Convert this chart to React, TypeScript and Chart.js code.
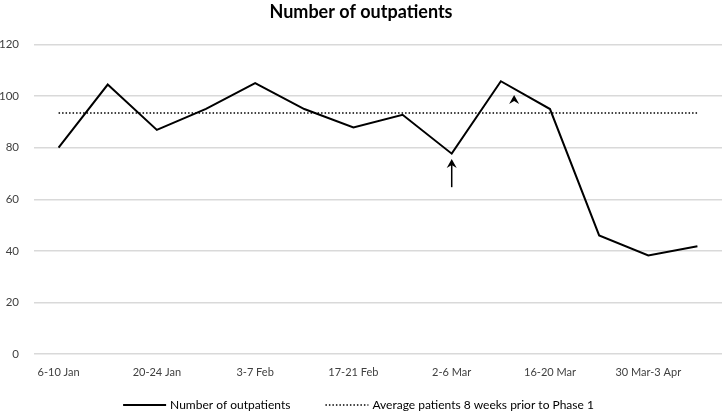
import React, { useEffect, useRef } from "react";
import { Chart, registerables } from "chart.js";

Chart.register(...registerables);

const weeks = [
  "6-10 Jan", "13-17 Jan", "20-24 Jan", "27-31 Jan", "3-7 Feb", "10-14 Feb", "17-21 Feb",
  "24-28 Feb", "2-6 Mar", "9-13 Mar", "16-20 Mar", "23-27 Mar", "30 Mar-3 Apr", "6-10 Apr",
];
const outpatients = [80, 104.5, 86.9, 95.1, 105.1, 95, 87.9, 92.8, 77.7, 105.8, 95, 46, 38.2, 41.8];
const averagePrior = 93.5;
const averageLine = weeks.map(() => averagePrior);
const yTicks = [0, 20, 40, 60, 80, 100, 120];
// annotation arrows: [category position, from value, to value]
const upArrow = [8, 64.7, 75.6];
// arrowhead: [category position, tip value]
const arrowHead = [9.27, 100.5];

const FONT = "Lato, 'Open Sans', sans-serif";

export default function App() {
  const ref = useRef<HTMLCanvasElement | null>(null);
  useEffect(() => {
    if (!ref.current) return;
    const arrows = {
      id: "arrows",
      afterDatasetsDraw(chart: any) {
        const { ctx, scales } = chart;
        const x = scales.x, y = scales.y;
        const posX = (v: number) => {
          const i = Math.floor(v);
          const f = v - i;
          return x.getPixelForValue(i) + f * (x.getPixelForValue(i + 1) - x.getPixelForValue(i));
        };
        const head = (cx: number, tip: number) => {
          ctx.beginPath();
          ctx.moveTo(cx, tip);
          ctx.lineTo(cx + 5, tip + 9);
          ctx.lineTo(cx, tip + 6);
          ctx.lineTo(cx - 5, tip + 9);
          ctx.closePath();
          ctx.fill();
        };
        ctx.save();
        ctx.fillStyle = "#000";
        ctx.strokeStyle = "#000";
        ctx.lineWidth = 1.5;
        const ax = posX(upArrow[0]);
        const y0 = y.getPixelForValue(upArrow[1]);
        const y1 = y.getPixelForValue(upArrow[2]);
        ctx.beginPath();
        ctx.moveTo(ax, y0);
        ctx.lineTo(ax, y1 + 5);
        ctx.stroke();
        head(ax, y1);
        head(posX(arrowHead[0]), y.getPixelForValue(arrowHead[1]));
        ctx.restore();
      },
    };
    const legend = {
      id: "bottomLegend",
      afterDraw(chart: any) {
        const { ctx, width, height } = chart;
        const sample = 43, gapText = 4, gapItem = 35;
        const cy = height - 8;
        ctx.save();
        ctx.font = `12px ${FONT}`;
        ctx.textBaseline = "middle";
        ctx.fillStyle = "#000";
        const ds = chart.data.datasets;
        const widths = ds.map((d: any) => ctx.measureText(d.label).width);
        const total = ds.reduce((s: number, _d: any, i: number) => s + sample + gapText + widths[i], 0) + gapItem * (ds.length - 1);
        let x = (width - total) / 2 - 3;
        ds.forEach((d: any, i: number) => {
          ctx.beginPath();
          ctx.strokeStyle = d.borderColor;
          ctx.lineWidth = d.borderWidth;
          ctx.setLineDash(d.borderDash || []);
          ctx.moveTo(x, cy);
          ctx.lineTo(x + sample, cy);
          ctx.stroke();
          ctx.setLineDash([]);
          x += sample + gapText;
          ctx.fillText(d.label, x, cy);
          x += widths[i] + gapItem;
        });
        ctx.restore();
      },
    };
    const chart = new Chart(ref.current, {
      type: "line",
      data: {
        labels: weeks,
        datasets: [
          {
            label: "Number of outpatients",
            data: outpatients,
            borderColor: "#000",
            backgroundColor: "#000",
            borderWidth: 2,
            pointRadius: 0,
            tension: 0,
          },
          {
            label: "Average patients 8 weeks prior to Phase 1",
            data: averageLine,
            borderColor: "#000",
            backgroundColor: "#000",
            borderWidth: 1.5,
            borderDash: [1.5, 2],
            pointRadius: 0,
          },
        ],
      },
      options: {
        animation: false,
        responsive: false,
        layout: { padding: { left: 0, right: 1, top: 0, bottom: 29 } },
        plugins: {
          title: {
            display: true,
            text: "Number of outpatients",
            color: "#000",
            font: { family: FONT, size: 18, weight: "bold" },
            padding: { top: 1, bottom: 22 },
          },
          legend: { display: false },
          tooltip: { enabled: false },
        },
        scales: {
          x: {
            offset: true,
            grid: { display: false, drawTicks: false },
            border: { display: false },
            afterFit: (axis: any) => {
              axis.height = 30;
            },
            ticks: {
              autoSkip: false,
              maxRotation: 0,
              color: "#404040",
              font: { family: FONT, size: 11 },
              padding: 12,
              callback: (v: any, i: number) => (i % 2 === 0 ? weeks[i] : ""),
            },
          },
          y: {
            min: 0,
            max: 120,
            afterBuildTicks: (axis: any) => {
              axis.ticks = yTicks.map((v) => ({ value: v }));
            },
            afterFit: (axis: any) => {
              axis.width = 34;
            },
            grid: { color: "#d9d9d9", lineWidth: 1.5, drawTicks: false },
            border: { display: false },
            ticks: {
              color: "#404040",
              font: { family: FONT, size: 11.5 },
              padding: 15,
            },
          },
        },
      },
      plugins: [arrows, legend],
    } as any);
    return () => chart.destroy();
  }, []);
  return (
    <div style={{ position: "absolute", left: 0, top: 0, width: 723, height: 413, background: "#fff" }}>
      <canvas ref={ref} width={723} height={413} style={{ display: "block" }} />
    </div>
  );
}
